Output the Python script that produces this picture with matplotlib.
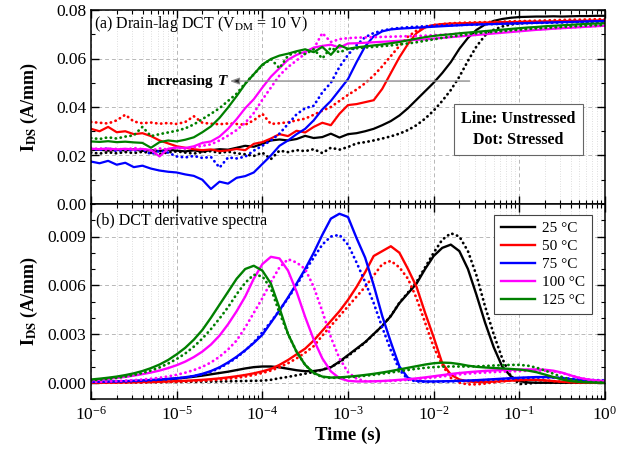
import matplotlib
matplotlib.use('Agg')
import matplotlib.pyplot as plt
import numpy as np
from matplotlib.ticker import LogLocator, NullFormatter, MultipleLocator, FormatStrFormatter, FixedLocator

plt.rcParams['font.family'] = ['Liberation Serif', 'DejaVu Serif']
plt.rcParams['mathtext.fontset'] = 'stix'

# ---------------- data ----------------
# sampling times, log10(t / s)
logt = [-6.0, -5.9, -5.8, -5.7, -5.6, -5.5, -5.4, -5.3, -5.2, -5.1, -5.0,
        -4.9, -4.8, -4.7, -4.6, -4.5, -4.4, -4.3, -4.2, -4.1, -4.0,
        -3.9, -3.8, -3.7, -3.6, -3.5, -3.4, -3.3, -3.2, -3.1, -3.0,
        -2.9, -2.8, -2.7, -2.6, -2.5, -2.4, -2.3, -2.2, -2.1, -2.0,
        -1.9, -1.8, -1.7, -1.6, -1.5, -1.4, -1.3, -1.2, -1.1, -1.0,
        -0.9, -0.8, -0.7, -0.6, -0.5, -0.4, -0.3, -0.2, -0.1, 0.0]

decade_ticks = [1e-6, 1e-5, 1e-4, 1e-3, 1e-2, 1e-1, 1e0]
temps = ['25 °C', '50 °C', '75 °C', '100 °C', '125 °C']
colors = ['#000000', '#ff0000', '#0000ff', '#ff00ff', '#008000']

# (a) drain-lag transients, unstressed (line) and stressed (dot), A/mm
a25_u = [0.0222, 0.0224, 0.0220, 0.0223, 0.0221, 0.0225, 0.0219, 0.0222, 0.0218, 0.0224, 0.0220,
         0.0217, 0.0221, 0.0216, 0.0222, 0.0226, 0.0224, 0.0232, 0.0240, 0.0236, 0.0248,
         0.0262, 0.0266, 0.0262, 0.0268, 0.0281, 0.0272, 0.0276, 0.0290, 0.0274, 0.0288,
         0.0292, 0.0300, 0.0310, 0.0325, 0.0342, 0.0365, 0.0395, 0.0430, 0.0465, 0.0500,
         0.0540, 0.0585, 0.0640, 0.0685, 0.0718, 0.0740, 0.0755, 0.0763, 0.0768, 0.0771,
         0.0772, 0.0773, 0.0773, 0.0774, 0.0773, 0.0774, 0.0775, 0.0775, 0.0776, 0.0776]
a25_s = [0.0212, 0.0208, 0.0213, 0.0209, 0.0214, 0.0210, 0.0215, 0.0211, 0.0206, 0.0213, 0.0217,
         0.0212, 0.0208, 0.0214, 0.0218, 0.0211, 0.0216, 0.0209, 0.0205, 0.0198, 0.0212,
         0.0185, 0.0220, 0.0214, 0.0222, 0.0218, 0.0226, 0.0210, 0.0232, 0.0224, 0.0235,
         0.0250, 0.0255, 0.0262, 0.0270, 0.0279, 0.0290, 0.0305, 0.0325, 0.0352, 0.0385,
         0.0425, 0.0470, 0.0525, 0.0590, 0.0650, 0.0695, 0.0718, 0.0732, 0.0740, 0.0745,
         0.0747, 0.0748, 0.0749, 0.0750, 0.0750, 0.0751, 0.0751, 0.0752, 0.0752, 0.0752]
a50_u = [0.0310, 0.0300, 0.0318, 0.0296, 0.0300, 0.0288, 0.0292, 0.0280, 0.0262, 0.0250, 0.0238,
         0.0232, 0.0226, 0.0222, 0.0225, 0.0218, 0.0221, 0.0227, 0.0222, 0.0248, 0.0255,
         0.0270, 0.0288, 0.0280, 0.0302, 0.0295, 0.0318, 0.0335, 0.0325, 0.0372, 0.0408,
         0.0412, 0.0420, 0.0428, 0.0475, 0.0540, 0.0605, 0.0660, 0.0705, 0.0728, 0.0738,
         0.0742, 0.0744, 0.0745, 0.0746, 0.0747, 0.0748, 0.0749, 0.0750, 0.0750, 0.0751,
         0.0752, 0.0752, 0.0753, 0.0753, 0.0754, 0.0755, 0.0755, 0.0756, 0.0757, 0.0758]
a50_s = [0.0338, 0.0335, 0.0332, 0.0345, 0.0368, 0.0340, 0.0333, 0.0336, 0.0331, 0.0334, 0.0330,
         0.0338, 0.0362, 0.0335, 0.0331, 0.0329, 0.0332, 0.0330, 0.0327, 0.0345, 0.0372,
         0.0330, 0.0333, 0.0337, 0.0345, 0.0352, 0.0368, 0.0385, 0.0400, 0.0425, 0.0450,
         0.0472, 0.0498, 0.0530, 0.0568, 0.0610, 0.0652, 0.0690, 0.0715, 0.0730, 0.0738,
         0.0742, 0.0745, 0.0747, 0.0748, 0.0749, 0.0750, 0.0751, 0.0752, 0.0753, 0.0754,
         0.0755, 0.0756, 0.0757, 0.0758, 0.0759, 0.0760, 0.0760, 0.0761, 0.0762, 0.0762]
a75_u = [0.0175, 0.0168, 0.0178, 0.0162, 0.0170, 0.0152, 0.0158, 0.0146, 0.0138, 0.0133, 0.0130,
         0.0122, 0.0116, 0.0100, 0.0062, 0.0092, 0.0084, 0.0108, 0.0115, 0.0130, 0.0165,
         0.0200, 0.0240, 0.0262, 0.0288, 0.0310, 0.0345, 0.0390, 0.0425, 0.0470, 0.0515,
         0.0585, 0.0650, 0.0692, 0.0712, 0.0720, 0.0723, 0.0725, 0.0727, 0.0729, 0.0731,
         0.0733, 0.0735, 0.0737, 0.0739, 0.0740, 0.0741, 0.0742, 0.0743, 0.0744, 0.0745,
         0.0746, 0.0747, 0.0748, 0.0749, 0.0750, 0.0751, 0.0752, 0.0753, 0.0754, 0.0755]
a75_s = [0.0228, 0.0222, 0.0230, 0.0218, 0.0224, 0.0220, 0.0226, 0.0205, 0.0219, 0.0212, 0.0196,
         0.0192, 0.0198, 0.0190, 0.0194, 0.0150, 0.0192, 0.0188, 0.0195, 0.0220, 0.0240,
         0.0262, 0.0290, 0.0330, 0.0370, 0.0395, 0.0405, 0.0460, 0.0500, 0.0565, 0.0615,
         0.0655, 0.0688, 0.0705, 0.0715, 0.0722, 0.0726, 0.0729, 0.0731, 0.0733, 0.0735,
         0.0736, 0.0737, 0.0738, 0.0739, 0.0740, 0.0741, 0.0742, 0.0743, 0.0744, 0.0745,
         0.0746, 0.0747, 0.0747, 0.0748, 0.0749, 0.0750, 0.0750, 0.0751, 0.0752, 0.0752]
a100_u = [0.0228, 0.0226, 0.0229, 0.0225, 0.0228, 0.0224, 0.0227, 0.0223, 0.0196, 0.0228, 0.0233,
          0.0231, 0.0238, 0.0252, 0.0258, 0.0278, 0.0310, 0.0350, 0.0395, 0.0432, 0.0480,
          0.0525, 0.0560, 0.0595, 0.0615, 0.0628, 0.0645, 0.0652, 0.0657, 0.0645, 0.0662,
          0.0663, 0.0665, 0.0667, 0.0669, 0.0671, 0.0673, 0.0675, 0.0677, 0.0679, 0.0682,
          0.0685, 0.0688, 0.0691, 0.0694, 0.0697, 0.0700, 0.0703, 0.0706, 0.0709, 0.0712,
          0.0715, 0.0718, 0.0720, 0.0723, 0.0725, 0.0727, 0.0729, 0.0731, 0.0733, 0.0735]
a100_s = [0.0225, 0.0230, 0.0222, 0.0228, 0.0224, 0.0231, 0.0226, 0.0221, 0.0229, 0.0225, 0.0232,
          0.0228, 0.0234, 0.0240, 0.0246, 0.0262, 0.0282, 0.0305, 0.0335, 0.0375, 0.0430,
          0.0480, 0.0530, 0.0565, 0.0592, 0.0620, 0.0640, 0.0705, 0.0668, 0.0680, 0.0684,
          0.0686, 0.0687, 0.0688, 0.0689, 0.0690, 0.0691, 0.0692, 0.0693, 0.0694, 0.0696,
          0.0698, 0.0700, 0.0702, 0.0704, 0.0706, 0.0708, 0.0710, 0.0712, 0.0714, 0.0716,
          0.0718, 0.0720, 0.0722, 0.0724, 0.0726, 0.0728, 0.0730, 0.0732, 0.0734, 0.0736]
a125_u = [0.0258, 0.0256, 0.0259, 0.0255, 0.0257, 0.0254, 0.0252, 0.0232, 0.0255, 0.0262, 0.0258,
          0.0265, 0.0275, 0.0296, 0.0320, 0.0355, 0.0398, 0.0445, 0.0495, 0.0535, 0.0575,
          0.0598, 0.0612, 0.0620, 0.0630, 0.0638, 0.0626, 0.0648, 0.0615, 0.0655, 0.0640,
          0.0646, 0.0650, 0.0654, 0.0658, 0.0663, 0.0668, 0.0675, 0.0682, 0.0688, 0.0693,
          0.0697, 0.0700, 0.0704, 0.0707, 0.0710, 0.0713, 0.0716, 0.0719, 0.0722, 0.0725,
          0.0728, 0.0730, 0.0733, 0.0735, 0.0737, 0.0739, 0.0741, 0.0743, 0.0744, 0.0745]
a125_s = [0.0272, 0.0268, 0.0275, 0.0270, 0.0278, 0.0283, 0.0318, 0.0280, 0.0288, 0.0295, 0.0302,
          0.0312, 0.0328, 0.0350, 0.0372, 0.0395, 0.0425, 0.0455, 0.0498, 0.0535, 0.0572,
          0.0598, 0.0560, 0.0612, 0.0628, 0.0618, 0.0638, 0.0600, 0.0645, 0.0625, 0.0640,
          0.0642, 0.0645, 0.0648, 0.0651, 0.0654, 0.0658, 0.0662, 0.0667, 0.0673, 0.0679,
          0.0685, 0.0690, 0.0695, 0.0700, 0.0704, 0.0707, 0.0710, 0.0713, 0.0716, 0.0719,
          0.0722, 0.0724, 0.0726, 0.0728, 0.0730, 0.0732, 0.0734, 0.0736, 0.0737, 0.0738]

# (b) derivative spectra, A/mm
b25_u = [0.00003, 0.00004, 0.00005, 0.00006, 0.00008, 0.00010, 0.00012, 0.00015, 0.00018, 0.00022, 0.00026,
         0.00031, 0.00037, 0.00044, 0.00052, 0.00060, 0.00068, 0.00078, 0.00088, 0.00096, 0.00100,
         0.00100, 0.00095, 0.00086, 0.00077, 0.00071, 0.00072, 0.00080, 0.00095, 0.00130, 0.00170,
         0.00210, 0.00250, 0.00300, 0.00350, 0.00410, 0.00490, 0.00550, 0.00610, 0.00700, 0.00780,
         0.00830, 0.00850, 0.00810, 0.00700, 0.00540, 0.00370, 0.00220, 0.00100, 0.00040, 0.00010,
         0.00002, 0.0, 0.0, 0.0, 0.0, 0.0, 0.0, 0.0, 0.0, 0.0]
b25_s = [0.00000, 0.00001, 0.00001, 0.00002, 0.00002, 0.00003, 0.00003, 0.00004, 0.00004, 0.00005, 0.00005,
         0.00006, 0.00006, 0.00007, 0.00007, 0.00008, 0.00009, 0.00010, 0.00011, 0.00012, 0.00013,
         0.00018, 0.00028, 0.00036, 0.00046, 0.00056, 0.00066, 0.00080, 0.00097, 0.00125, 0.00165,
         0.00205, 0.00248, 0.00298, 0.00350, 0.00412, 0.00492, 0.00555, 0.00620, 0.00710, 0.00800,
         0.00880, 0.00920, 0.00900, 0.00810, 0.00660, 0.00470, 0.00300, 0.00150, 0.00040, -0.00008,
         -0.00005, 0.0, 0.0, 0.0, 0.0, 0.0, 0.0, 0.0, 0.0, 0.0]
b50_u = [0.0, 0.0, 0.00001, 0.00001, 0.00002, 0.00003, 0.00004, 0.00005, 0.00006, 0.00008, 0.00010,
         0.00012, 0.00015, 0.00018, 0.00022, 0.00027, 0.00033, 0.00040, 0.00048, 0.00058, 0.00070,
         0.00085, 0.00110, 0.00140, 0.00175, 0.00210, 0.00260, 0.00320, 0.00380, 0.00440, 0.00510,
         0.00590, 0.00680, 0.00780, 0.00810, 0.00840, 0.00800, 0.00700, 0.00590, 0.00430, 0.00280,
         0.00120, 0.00050, 0.00020, 0.00008, 0.00005, 0.00005, 0.00007, 0.00010, 0.00013, 0.00016,
         0.00018, 0.00018, 0.00015, 0.00010, 0.00006, 0.00003, 0.00001, 0.0, 0.0, 0.0]
b50_s = [0.0, 0.0, 0.0, 0.00001, 0.00001, 0.00002, 0.00002, 0.00003, 0.00004, 0.00005, 0.00006,
         0.00008, 0.00010, 0.00012, 0.00015, 0.00019, 0.00024, 0.00030, 0.00038, 0.00048, 0.00060,
         0.00075, 0.00095, 0.00120, 0.00150, 0.00185, 0.00225, 0.00290, 0.00350, 0.00410, 0.00470,
         0.00530, 0.00590, 0.00660, 0.00730, 0.00750, 0.00710, 0.00640, 0.00520, 0.00370, 0.00220,
         0.00110, 0.00030, 0.00000, -0.00010, -0.00010, -0.00005, 0.00003, 0.00008, 0.00013, 0.00016,
         0.00018, 0.00017, 0.00014, 0.00010, 0.00006, 0.00003, 0.00001, 0.0, 0.0, 0.0]
b75_u = [0.00005, 0.00006, 0.00007, 0.00008, 0.00010, 0.00012, 0.00014, 0.00017, 0.00020, 0.00024, 0.00028,
         0.00034, 0.00042, 0.00055, 0.00072, 0.00095, 0.00125, 0.00160, 0.00200, 0.00245, 0.00295,
         0.00370, 0.00445, 0.00525, 0.00610, 0.00700, 0.00800, 0.00910, 0.01010, 0.01040, 0.01020,
         0.00890, 0.00770, 0.00600, 0.00410, 0.00250, 0.00100, 0.00030, 0.00012, 0.00008, 0.00008,
         0.00009, 0.00010, 0.00012, 0.00014, 0.00016, 0.00019, 0.00022, 0.00025, 0.00028, 0.00031,
         0.00033, 0.00035, 0.00035, 0.00033, 0.00028, 0.00022, 0.00017, 0.00013, 0.00011, 0.00010]
b75_s = [0.00004, 0.00005, 0.00006, 0.00007, 0.00008, 0.00010, 0.00012, 0.00015, 0.00018, 0.00022, 0.00026,
         0.00032, 0.00040, 0.00052, 0.00068, 0.00090, 0.00120, 0.00155, 0.00198, 0.00248, 0.00310,
         0.00375, 0.00445, 0.00520, 0.00600, 0.00690, 0.00770, 0.00850, 0.00900, 0.00910, 0.00850,
         0.00740, 0.00620, 0.00490, 0.00340, 0.00200, 0.00080, 0.00020, 0.00008, 0.00006, 0.00006,
         0.00007, 0.00008, 0.00010, 0.00012, 0.00014, 0.00016, 0.00019, 0.00022, 0.00025, 0.00028,
         0.00030, 0.00032, 0.00033, 0.00032, 0.00029, 0.00025, 0.00021, 0.00018, 0.00016, 0.00015]
b100_u = [0.00015, 0.00019, 0.00024, 0.00030, 0.00036, 0.00044, 0.00053, 0.00063, 0.00075, 0.00090, 0.00108,
          0.00130, 0.00158, 0.00192, 0.00235, 0.00290, 0.00360, 0.00440, 0.00530, 0.00640, 0.00730,
          0.00775, 0.00765, 0.00690, 0.00560, 0.00405, 0.00265, 0.00150, 0.00070, 0.00028, 0.00012,
          0.00008, 0.00008, 0.00009, 0.00011, 0.00014, 0.00018, 0.00022, 0.00027, 0.00033, 0.00040,
          0.00047, 0.00054, 0.00060, 0.00065, 0.00069, 0.00073, 0.00076, 0.00078, 0.00080, 0.00081,
          0.00082, 0.00082, 0.00080, 0.00074, 0.00062, 0.00045, 0.00030, 0.00020, 0.00014, 0.00010]
b100_s = [0.00005, 0.00006, 0.00008, 0.00010, 0.00013, 0.00016, 0.00020, 0.00025, 0.00031, 0.00039, 0.00049,
          0.00062, 0.00078, 0.00098, 0.00125, 0.00160, 0.00205, 0.00260, 0.00340, 0.00430, 0.00520,
          0.00620, 0.00710, 0.00760, 0.00740, 0.00700, 0.00590, 0.00440, 0.00280, 0.00150, 0.00065,
          0.00025, 0.00010, 0.00008, 0.00009, 0.00011, 0.00014, 0.00018, 0.00022, 0.00027, 0.00033,
          0.00039, 0.00045, 0.00051, 0.00056, 0.00060, 0.00063, 0.00066, 0.00068, 0.00070, 0.00072,
          0.00074, 0.00075, 0.00074, 0.00070, 0.00060, 0.00045, 0.00030, 0.00020, 0.00014, 0.00010]
b125_u = [0.00020, 0.00025, 0.00031, 0.00038, 0.00047, 0.00058, 0.00072, 0.00090, 0.00112, 0.00140, 0.00175,
          0.00215, 0.00265, 0.00325, 0.00400, 0.00480, 0.00560, 0.00640, 0.00700, 0.00720, 0.00690,
          0.00610, 0.00460, 0.00300, 0.00190, 0.00110, 0.00060, 0.00038, 0.00032, 0.00033, 0.00037,
          0.00042, 0.00048, 0.00055, 0.00063, 0.00072, 0.00082, 0.00092, 0.00102, 0.00112, 0.00120,
          0.00124, 0.00122, 0.00115, 0.00105, 0.00098, 0.00094, 0.00091, 0.00088, 0.00085, 0.00081,
          0.00075, 0.00065, 0.00050, 0.00035, 0.00020, 0.00010, 0.00005, 0.00002, 0.00001, 0.00000]
b125_s = [0.00015, 0.00019, 0.00024, 0.00030, 0.00038, 0.00048, 0.00060, 0.00075, 0.00094, 0.00118, 0.00146,
          0.00180, 0.00222, 0.00272, 0.00330, 0.00395, 0.00465, 0.00545, 0.00615, 0.00665, 0.00655,
          0.00580, 0.00430, 0.00300, 0.00190, 0.00110, 0.00058, 0.00035, 0.00030, 0.00031, 0.00034,
          0.00038, 0.00043, 0.00049, 0.00056, 0.00063, 0.00071, 0.00079, 0.00086, 0.00092, 0.00096,
          0.00099, 0.00100, 0.00100, 0.00100, 0.00101, 0.00103, 0.00106, 0.00108, 0.00110, 0.00110,
          0.00105, 0.00093, 0.00075, 0.00055, 0.00035, 0.00020, 0.00010, 0.00005, 0.00002, 0.00001]

top_u = [a25_u, a50_u, a75_u, a100_u, a125_u]
top_s = [a25_s, a50_s, a75_s, a100_s, a125_s]
bot_u = [b25_u, b50_u, b75_u, b100_u, b125_u]
bot_s = [b25_s, b50_s, b75_s, b100_s, b125_s]

t = 10.0 ** np.array(logt)

# ---------------- figure ----------------
W, H = 635, 449
fig = plt.figure(figsize=(W / 100, H / 100), dpi=100)
x0, x1 = 91, 605
ax1 = fig.add_axes([x0 / W, 1 - 204 / H, (x1 - x0) / W, 194 / H])
ax2 = fig.add_axes([x0 / W, 1 - 399 / H, (x1 - x0) / W, 195 / H])

dot_ls = (0, (0.1, 1.7))
for ax in (ax1, ax2):
    ax.set_xscale('log')
    ax.set_xlim(1e-6, 1)
    ax.xaxis.set_major_locator(FixedLocator(decade_ticks))
    ax.xaxis.set_minor_locator(LogLocator(base=10, subs=np.arange(2, 10), numticks=100))
    ax.xaxis.set_minor_formatter(NullFormatter())
    ax.set_axisbelow(True)
    ax.grid(True, which='major', linestyle=(0, (4, 3)), color='#b8b8b8', linewidth=0.7)
    ax.grid(True, which='minor', axis='x', linestyle=(0, (1, 2)), color='#d4d4d4', linewidth=0.6)
    ax.tick_params(which='both', direction='in', top=True, right=True, labelsize=12.5)
    ax.tick_params(which='major', length=5.5, width=1.0)
    ax.tick_params(which='minor', length=2.8, width=0.8)
    ax.tick_params(axis='x', which='major', pad=5)
    for sp in ax.spines.values():
        sp.set_linewidth(1.1)

# top panel
for yu, ys, c in zip(top_u, top_s, colors):
    ax1.plot(t, ys, color=c, lw=2.0, linestyle=dot_ls, dash_capstyle='round')
    ax1.plot(t, yu, color=c, lw=1.6)
ax1.set_ylim(0, 0.08)
ax1.yaxis.set_major_locator(MultipleLocator(0.02))
ax1.yaxis.set_minor_locator(MultipleLocator(0.01))
ax1.yaxis.set_major_formatter(FormatStrFormatter('%.2f'))
ax1.tick_params(labelbottom=False)

# bottom panel
handles = []
for yu, ys, c, lab in zip(bot_u, bot_s, colors, temps):
    ax2.plot(t, ys, color=c, lw=2.0, linestyle=dot_ls, dash_capstyle='round')
    h, = ax2.plot(t, yu, color=c, lw=1.7, label=lab)
    handles.append(h)
ax2.set_ylim(-0.001, 0.011)
ax2.set_yticks([0.0, 0.003, 0.006, 0.009])
ax2.yaxis.set_minor_locator(MultipleLocator(0.001))
ax2.yaxis.set_major_formatter(FormatStrFormatter('%.3f'))

ylab = r'$\mathbf{I}_{\mathbf{DS}}$ (A/mm)'
for ax in (ax1, ax2):
    ax.set_ylabel(ylab, fontsize=13, fontweight='bold')
    ax.yaxis.set_label_coords(-0.10, 0.5)
ax2.set_xlabel('Time (s)', fontsize=13.5, fontweight='bold', labelpad=2)

ax1.text(0.006, 0.93, r'(a) Drain-lag DCT (V$_{\mathrm{DM}}$ = 10 V)', transform=ax1.transAxes,
         ha='left', va='center', fontsize=11.5)
ax2.text(0.010, 0.913, '(b) DCT derivative spectra', transform=ax2.transAxes,
         ha='left', va='center', fontsize=11.5)

ax2.legend(handles=handles, loc='upper right', bbox_to_anchor=(0.975, 0.944), fontsize=11,
           frameon=True, fancybox=False, edgecolor='#444444', framealpha=1, handlelength=2.2,
           labelspacing=0.28, borderpad=0.45, handletextpad=0.5, borderaxespad=0)
ax2.get_legend().get_frame().set_linewidth(0.8)

ax1.text(0.831, 0.384, 'Line: Unstressed\nDot: Stressed', transform=ax1.transAxes,
         ha='center', va='center', fontsize=11.5, fontweight='bold', linespacing=1.45,
         bbox=dict(boxstyle='square,pad=0.45', fc='white', ec='#666666', lw=0.8))

# "increasing T" arrow
ay = 0.0507
tip = 10 ** -4.38
ax1.annotate('', xy=(tip, ay), xytext=(10 ** -1.58, ay),
             arrowprops=dict(arrowstyle='-|>,head_length=0.55,head_width=0.2', ec='#8c8c8c',
                             fc='#222222', lw=1.0, shrinkA=0, shrinkB=0))
ax1.annotate('T', xy=(tip, ay), xytext=(-1.5, 0), textcoords='offset points', ha='right',
             va='center', fontsize=11, fontweight='bold', fontstyle='italic')
ax1.annotate('increasing', xy=(tip, ay), xytext=(-12, 0), textcoords='offset points',
             ha='right', va='center', fontsize=11, fontweight='bold')

fig.savefig('out.png', dpi=100)
